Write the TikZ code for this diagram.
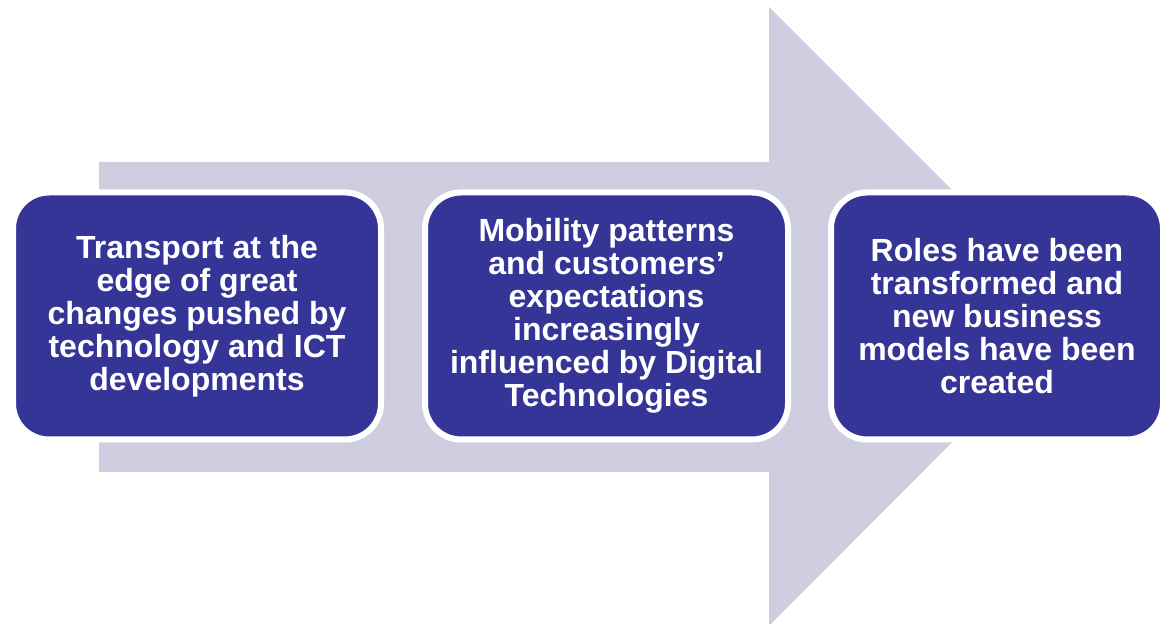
\documentclass[tikz,border=0pt]{standalone}
\usepackage{fontspec}
\setmainfont{Liberation Sans}
\usepackage{tikz}
\definecolor{boxblue}{RGB}{53,53,151}
\definecolor{arrowgrey}{RGB}{206,206,224}

\begin{document}
\begin{tikzpicture}[x=0.5pt, y=0.5pt,
    stage/.style={draw=white, line width=3pt, fill=boxblue, rounded corners=18pt,
        text=white, font=\bfseries\fontsize{16}{16.5}\selectfont, align=center,
        minimum height=123.5pt, inner sep=0pt}]
    \useasboundingbox (0,0) rectangle (1160,624);

    % Pfeil.
    \fill[arrowgrey] (99,152) -- (99,462) -- (769,462) -- (769,617) -- (1078,308)
        -- (769,-2) -- (769,152) -- cycle;

    % Kaesten.
    \node[stage, minimum width=184pt] (box1) at (197,308)
        {Transport at the\\edge of great\\changes pushed by\\technology and ICT\\developments};
    \node[stage, minimum width=181.5pt] (box2) at (606.5,308)
        {Mobility patterns\\and customers’\\expectations\\increasingly\\influenced by Digital\\Technologies};
    \node[stage, minimum width=166pt] (box3) at (997,308)
        {Roles have been\\transformed and\\new business\\models have been\\created};
\end{tikzpicture}
\end{document}
